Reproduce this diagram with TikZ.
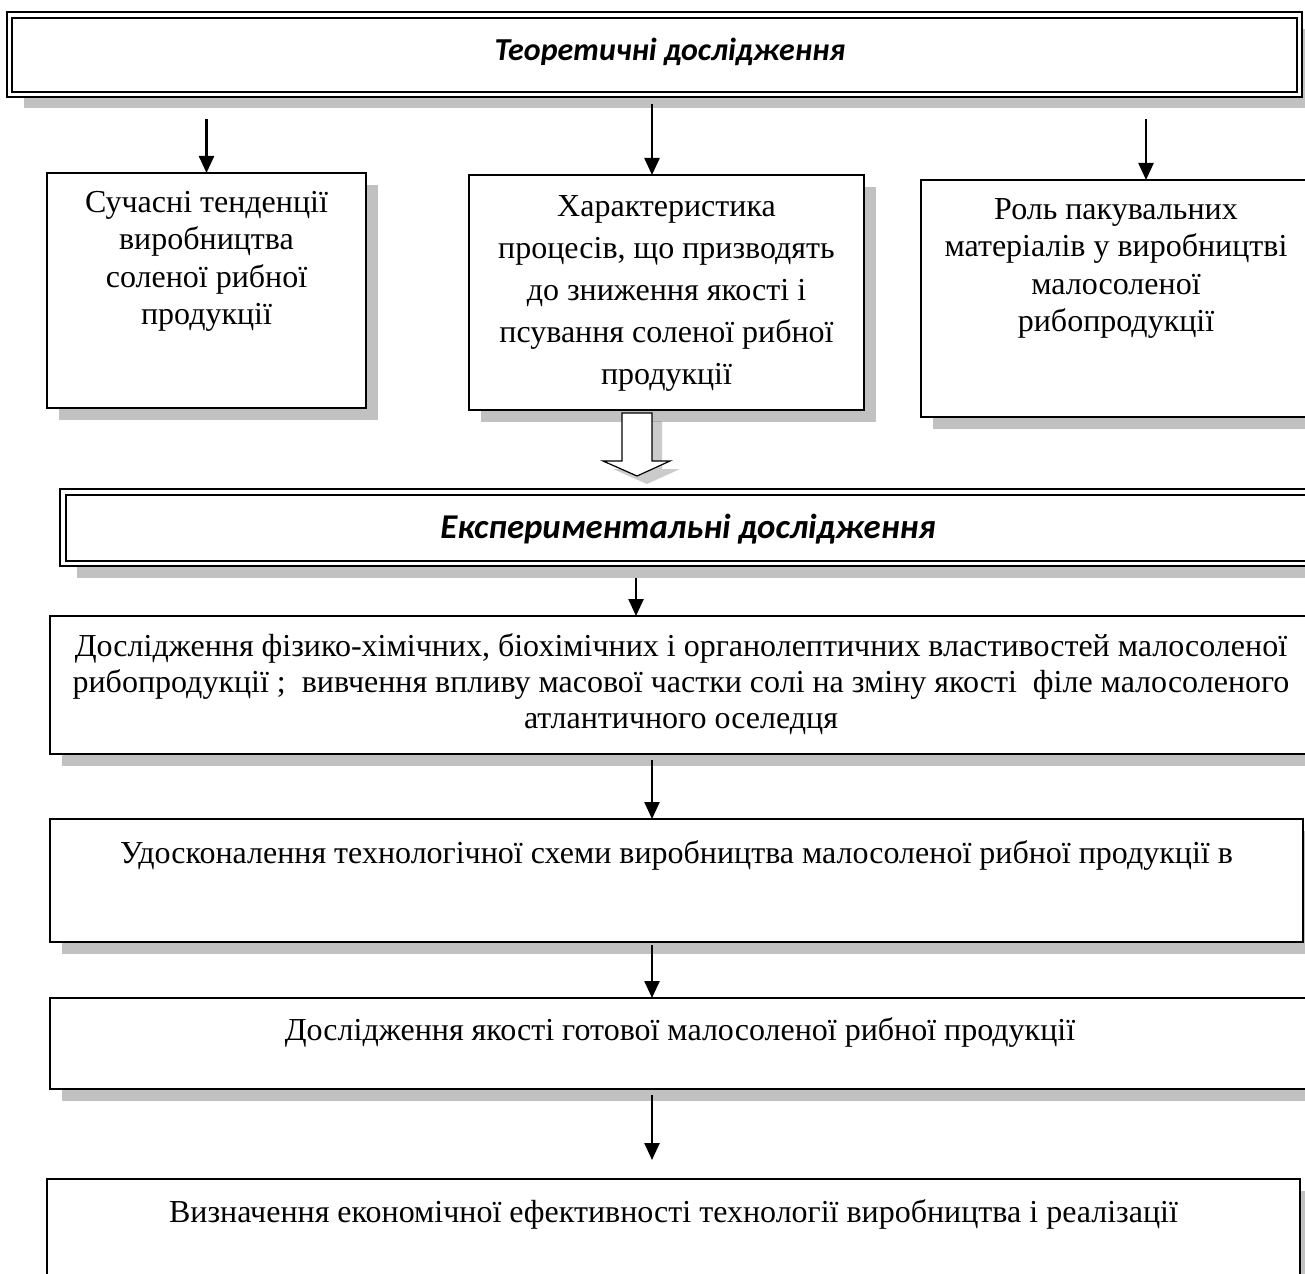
\documentclass[tikz,border=0pt]{standalone}
\usepackage{fontspec}
\setmainfont{Liberation Serif}
\newfontfamily\headfont{Carlito}
\usetikzlibrary{positioning,shadows,arrows.meta}

\tikzset{
    blok/.style={draw, line width=0.6pt, fill=white, anchor=north west, inner sep=0pt, outer sep=0pt,
        drop shadow={shadow xshift=6pt, shadow yshift=-6pt, fill=black!40, opacity=0.6}},
    zag/.style={draw, line width=1pt, double=white, double distance=1.6pt, fill=white, anchor=north west,
        inner sep=0pt, outer sep=0pt,
        drop shadow={shadow xshift=7pt, shadow yshift=-7pt, fill=black!40, opacity=0.6}},
    zagtext/.style={font=\headfont\bfseries\itshape\fontsize{16}{19}\selectfont, inner sep=0pt},
    tekst/.style={align=center, inner sep=0pt, font=\fontsize{16}{18.7}\selectfont},
    strilka/.style={line width=1.2pt, -{Triangle[length=8.5pt,width=7.5pt]}},
}

\begin{document}
\begin{tikzpicture}[x=0.5pt,y=-0.5pt]
    \useasboundingbox (0,0) rectangle (1305,1273);
    \fill[white] (0,0) rectangle (1305,1273);

    \node[zag, minimum width=645pt, minimum height=39.75pt] (head1) at (9.5,15) {};
    \node[zagtext] (t1) at (670,52) {Теоретичні дослідження};

    \node[blok, minimum width=159.5pt, minimum height=117.5pt] (b1) at (47,173) {};
    \node[blok, minimum width=197.5pt, minimum height=117.5pt] (b2) at (469,175) {};
    \node[blok, minimum width=195pt, minimum height=118.5pt] (b3) at (921,180) {};

    \node[tekst, below=9pt of b1.north] {Сучасні тенденції\\виробництва\\соленої рибної\\продукції};
    \node[tekst, below=10pt of b2.north, font=\fontsize{16}{21}\selectfont]
        {Характеристика\\процесів, що призводять\\до зниження якості і\\псування соленої рибної\\продукції};
    \node[tekst, below=9pt of b3.north] {Роль пакувальних\\матеріалів у виробництві\\малосоленої\\рибопродукції};

    \coordinate (s2) at ([xshift=-7.25pt]b2.north);
    \coordinate (s3) at ([xshift=15pt]b3.north);
    \draw[strilka, shorten <=12.5pt] (b1.north |- head1.south) -- (b1.north);
    \draw[strilka, shorten <=5pt] (s2 |- head1.south) -- (s2);
    \draw[strilka, shorten <=12.5pt] (s3 |- head1.south) -- (s3);

    % hollow arrow
    \draw[line width=0.6pt, fill=white, drop shadow={shadow xshift=5pt, shadow yshift=-4pt, fill=black!40, opacity=0.5}]
        (622,413) -- (652,413) -- (652,461) -- (670,461) -- (637,476) -- (603,461) -- (622,461) -- cycle;

    \node[zag, minimum width=626pt, minimum height=35.75pt] (head2) at (63,492) {};
    \node[zagtext, font=\headfont\bfseries\itshape\fontsize{17.4}{20}\selectfont] (t2) at (688,529) {Експериментальні дослідження};

    \node[blok, minimum width=631pt, minimum height=69pt] (b4) at (50,616) {};
    \node[blok, minimum width=626.5pt, minimum height=61.5pt] (b5) at (50,819) {};
    \node[blok, minimum width=630pt, minimum height=45.5pt] (b6) at (50,998) {};
    \node[blok, minimum width=626.5pt, minimum height=60pt] (b7) at (47,1179) {};

    \node[tekst, below=8.5pt of b4.north, font=\fontsize{16}{18}\selectfont] {Дослідження фізико-хімічних, біохімічних і органолептичних властивостей малосоленої\\рибопродукції ;\ \ вивчення впливу масової частки солі на зміну якості\ \ філе малосоленого\\атлантичного оселедця};
    \node[tekst, below=10.5pt of b5.north] {Удосконалення технологічної схеми виробництва малосоленої рибної продукції в};
    \node[tekst, below=9.5pt of b6.north] {Дослідження якості готової малосоленої рибної продукції};
    \node[tekst, below=10pt of b7.north] {Визначення економічної ефективності технології виробництва і реалізації};

    \coordinate (m4) at ([xshift=-22.5pt]b4.north);
    \coordinate (m) at (652,0);
    \draw[strilka, shorten <=7pt] (m4 |- head2.south) -- (m4);
    \draw[strilka, shorten <=3pt] (m |- b4.south) -- (m |- b5.north);
    \draw[strilka, shorten <=1.5pt] (m |- b5.south) -- (m |- b6.north);
    \draw[strilka, shorten <=3pt, shorten >=9.5pt] (m |- b6.south) -- (m |- b7.north);

\end{tikzpicture}
\end{document}
